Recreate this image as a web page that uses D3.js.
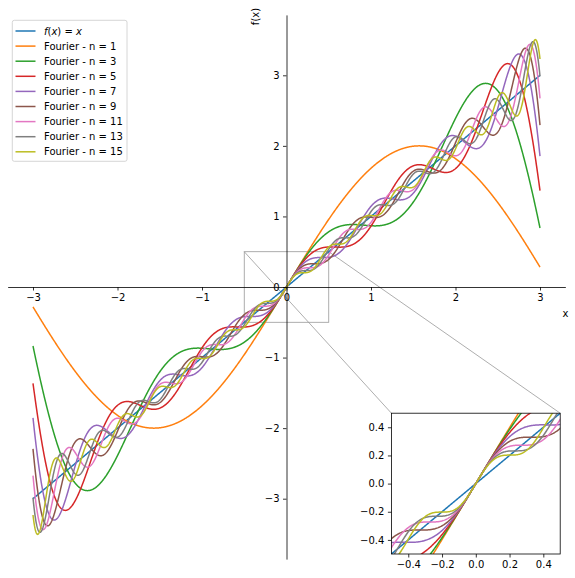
<!DOCTYPE html>
<html>
<head>
<meta charset="utf-8">
<script src="https://cdn.jsdelivr.net/npm/d3@7"></script>
<style>
body{margin:0;background:#ffffff;}
svg text{font-family:"DejaVu Sans";font-size:10px;fill:#000000;}
</style>
</head>
<body>
<svg id="chart" width="575" height="578"></svg>
<script>
// Fourier partial sums of f(x)=x on [-pi, pi], evaluated on [-3, 3]
var termCounts=[1,3,5,7,9,11,13,15];
var sineCoefs=[2/1,-2/2,2/3,-2/4,2/5,-2/6,2/7,-2/8,2/9,-2/10,2/11,-2/12,2/13,-2/14,2/15];
var seriesNames=["Fourier - n = 1","Fourier - n = 3","Fourier - n = 5","Fourier - n = 7",
                 "Fourier - n = 9","Fourier - n = 11","Fourier - n = 13","Fourier - n = 15"];
var colors=["#1f77b4","#ff7f0e","#2ca02c","#d62728","#9467bd","#8c564b","#e377c2","#7f7f7f","#bcbd22"];
var xTicks=[-3,-2,-1,0,1,2,3];
var yTicks=[-3,-2,-1,0,1,2,3];
var insetTicks=[-0.4,-0.2,0,0.2,0.4];
var xStart=-3, xEnd=3, nSamples=1500;
var zoomBox=[-0.5,0.5];

var xs=d3.range(nSamples).map(function(i){ return xStart+(xEnd-xStart)*i/(nSamples-1); });

var identity=xs.map(function(x){ return [x,x]; });

var fourier=termCounts.map(function(n){
    return xs.map(function(x){
        var s=0;
        for(var k=1;k<=n;k++){ s+=sineCoefs[k-1]*Math.sin(k*x); }
        return [x,s];
    });
});

var allSeries=[identity].concat(fourier);

// matplotlib style 5% margins
var yExt=d3.extent(d3.merge(allSeries),function(d){ return d[1]; });
var yPad=(yExt[1]-yExt[0])*0.05;
var xPad=(xEnd-xStart)*0.05;

var svg=d3.select("#chart");

var x=d3.scaleLinear().domain([xStart-xPad,xEnd+xPad]).range([7.65,565.35]);
var y=d3.scaleLinear().domain([yExt[0]-yPad,yExt[1]+yPad]).range([559.1,14.9]);

var line=d3.line().x(function(d){ return x(d[0]); }).y(function(d){ return y(d[1]); });

// inset indicator and connectors (under the curves)
var gMark=svg.append("g").attr("fill","none").attr("stroke","#999999").attr("stroke-width",0.8);
var ix=d3.scaleLinear().domain(zoomBox).range([391.4,560.2]);
var iy=d3.scaleLinear().domain(zoomBox).range([554.0,413.2]);

gMark.append("rect")
    .attr("x",x(zoomBox[0]))
    .attr("y",y(zoomBox[1]))
    .attr("width",x(zoomBox[1])-x(zoomBox[0]))
    .attr("height",y(zoomBox[0])-y(zoomBox[1]));
gMark.append("line")
    .attr("x1",x(zoomBox[0])).attr("y1",y(zoomBox[1]))
    .attr("x2",ix(zoomBox[0])).attr("y2",iy(zoomBox[1]));
gMark.append("line")
    .attr("x1",x(zoomBox[1])).attr("y1",y(zoomBox[1]))
    .attr("x2",ix(zoomBox[1])).attr("y2",iy(zoomBox[1]));

// main curves
svg.append("g").selectAll("path").data(allSeries).enter().append("path")
    .attr("d",line)
    .attr("fill","none")
    .attr("stroke",function(d,i){ return colors[i]; })
    .attr("stroke-width",1.5);

// centred spines
var xAxis=svg.append("g")
    .attr("transform","translate(0,"+y(0)+")")
    .call(d3.axisBottom(x).tickValues(xTicks).tickFormat(d3.format("d")).tickSize(3.5).tickPadding(3.5).tickSizeOuter(0));
var yAxis=svg.append("g")
    .attr("transform","translate("+x(0)+",0)")
    .call(d3.axisLeft(y).tickValues(yTicks).tickFormat(d3.format("d")).tickSize(3.5).tickPadding(3.5).tickSizeOuter(0));

[xAxis,yAxis].forEach(function(g){
    g.attr("font-family","DejaVu Sans").attr("font-size",10);
    g.selectAll("path,line").attr("stroke","#000000").attr("stroke-width",0.8);
});

svg.append("text")
    .attr("x",565.5).attr("y",317)
    .attr("text-anchor","middle")
    .text("x");
svg.append("text")
    .attr("transform","translate(258.5,16.5) rotate(-90)")
    .attr("text-anchor","middle")
    .text("f(x)");

// inset axes
var gIn=svg.append("g");
gIn.append("rect")
    .attr("x",ix.range()[0]).attr("y",iy.range()[1])
    .attr("width",ix.range()[1]-ix.range()[0])
    .attr("height",iy.range()[0]-iy.range()[1])
    .attr("fill","#ffffff");

svg.append("clipPath").attr("id","insetClip").append("rect")
    .attr("x",ix.range()[0]).attr("y",iy.range()[1])
    .attr("width",ix.range()[1]-ix.range()[0])
    .attr("height",iy.range()[0]-iy.range()[1]);

var insetLine=d3.line().x(function(d){ return ix(d[0]); }).y(function(d){ return iy(d[1]); });

gIn.append("g").attr("clip-path","url(#insetClip)")
    .selectAll("path").data(allSeries).enter().append("path")
    .attr("d",function(d){
        return insetLine(d.filter(function(p){ return p[0]>=zoomBox[0]-0.05 && p[0]<=zoomBox[1]+0.05; }));
    })
    .attr("fill","none")
    .attr("stroke",function(d,i){ return colors[i]; })
    .attr("stroke-width",1.5);

var inX=gIn.append("g")
    .attr("transform","translate(0,"+iy.range()[0]+")")
    .call(d3.axisBottom(ix).tickValues(insetTicks).tickFormat(d3.format(".1f")).tickSize(3.5).tickPadding(3.5).tickSizeOuter(0));
var inY=gIn.append("g")
    .attr("transform","translate("+ix.range()[0]+",0)")
    .call(d3.axisLeft(iy).tickValues(insetTicks).tickFormat(d3.format(".1f")).tickSize(3.5).tickPadding(3.5).tickSizeOuter(0));
[inX,inY].forEach(function(g){
    g.attr("font-family","DejaVu Sans").attr("font-size",10);
    g.selectAll("path,line").attr("stroke","#000000").attr("stroke-width",0.8);
    g.select(".domain").remove();
});
gIn.append("rect")
    .attr("x",ix.range()[0]).attr("y",iy.range()[1])
    .attr("width",ix.range()[1]-ix.range()[0])
    .attr("height",iy.range()[0]-iy.range()[1])
    .attr("fill","none")
    .attr("stroke","#000000")
    .attr("stroke-width",0.8);

// legend
var gLeg=svg.append("g");
gLeg.append("rect")
    .attr("x",12.3).attr("y",20.3)
    .attr("width",114.7).attr("height",141)
    .attr("rx",2).attr("ry",2)
    .attr("fill","#ffffff").attr("fill-opacity",0.8)
    .attr("stroke","#cccccc").attr("stroke-width",0.8);

var rowY=function(i){ return 31+i*15.1; };

gLeg.selectAll("line").data(colors).enter().append("line")
    .attr("x1",15.5).attr("x2",35.5)
    .attr("y1",function(d,i){ return rowY(i); })
    .attr("y2",function(d,i){ return rowY(i); })
    .attr("stroke",function(d){ return d; })
    .attr("stroke-width",1.5);

var first=gLeg.append("text").attr("x",44).attr("y",rowY(0)).attr("dy","0.35em");
[["f","italic"],["(","normal"],["x","italic"],[")","normal"],[" = ","normal"],["x","italic"]].forEach(function(p){
    first.append("tspan").attr("font-style",p[1]).text(p[0]);
});

gLeg.selectAll("text.lab").data(seriesNames).enter().append("text")
    .attr("class","lab")
    .attr("x",44)
    .attr("y",function(d,i){ return rowY(i+1); })
    .attr("dy","0.35em")
    .text(function(d){ return d; });
</script>
</body>
</html>
